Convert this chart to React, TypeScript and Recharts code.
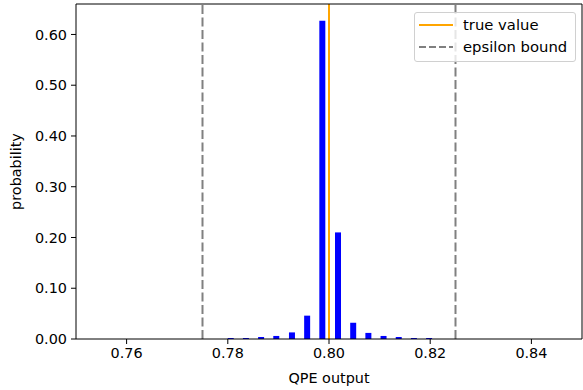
import React from 'react';
import { ComposedChart, Bar, XAxis, YAxis, ReferenceLine } from 'recharts';

// QPE output bins and their measured probabilities
const outputs = [0.7805, 0.7835, 0.7865, 0.7895, 0.7926, 0.7956, 0.7986, 0.8017, 0.8047, 0.8077, 0.8107, 0.8137, 0.8167, 0.8197];
const probs = [0.002, 0.002, 0.004, 0.006, 0.013, 0.046, 0.627, 0.21, 0.032, 0.012, 0.006, 0.004, 0.002, 0.002];

const trueValue = 0.8;
const epsilonBounds = [0.775, 0.825];

const xTicks = [0.76, 0.78, 0.8, 0.82, 0.84];
const yTicks = [0, 0.1, 0.2, 0.3, 0.4, 0.5, 0.6];

const xDomain = [0.75, 0.85];
const yDomain = [0, 0.66];

const data = outputs.map((x, i) => ({ x, p: probs[i] }));

const font = '"DejaVu Sans", sans-serif';
const tickStyle = { fontSize: 14.4, fill: '#000', fontFamily: font };

const LegendBox = () => (
    <div
        style={{
            position: 'absolute',
            left: 414,
            top: 12,
            width: 160,
            height: 48,
            border: '1px solid #d0d0d0',
            borderRadius: 3,
            background: 'rgba(255,255,255,0.8)',
            fontFamily: font,
            fontSize: 14.8,
            color: '#000',
        }}
    >
        <svg width={40} height={48} style={{ position: 'absolute', left: 0, top: 0 }}>
            <line x1={4} x2={38} y1={12} y2={12} stroke="#ffa500" strokeWidth={2} />
            <line x1={4} x2={38} y1={34} y2={34} stroke="#808080" strokeWidth={2} strokeDasharray="7 3" />
        </svg>
        <div style={{ position: 'absolute', left: 48, top: 2, lineHeight: '19px' }}>true value</div>
        <div style={{ position: 'absolute', left: 48, top: 24, lineHeight: '19px' }}>epsilon bound</div>
    </div>
);

export default function App() {
    return (
        <div style={{ position: 'absolute', left: 0, top: 0, width: 583, height: 390, background: '#fff' }}>
            <ComposedChart
                width={583}
                height={390}
                data={data}
                margin={{ top: 4, right: 1, bottom: 0, left: 0 }}
            >
                <XAxis
                    dataKey="x"
                    type="number"
                    domain={xDomain}
                    ticks={xTicks}
                    tickFormatter={(v: number) => v.toFixed(2)}
                    height={51}
                    tickSize={5}
                    tickMargin={4}
                    tick={tickStyle}
                    stroke="#000"
                    allowDataOverflow
                    label={{ value: 'QPE output', position: 'insideBottom', offset: 7, style: { ...tickStyle, textAnchor: 'middle' } }}
                />
                <YAxis
                    type="number"
                    domain={yDomain}
                    ticks={yTicks}
                    tickFormatter={(v: number) => v.toFixed(2)}
                    width={76}
                    tickSize={5}
                    tickMargin={4}
                    tick={tickStyle}
                    stroke="#000"
                    allowDataOverflow
                    label={{ value: 'probability', angle: -90, position: 'insideLeft', offset: 16, style: { ...tickStyle, textAnchor: 'middle' } }}
                />
                <Bar dataKey="p" fill="#0000ff" barSize={6} isAnimationActive={false} />
                <ReferenceLine x={trueValue} stroke="#ffa500" strokeWidth={2} />
                {epsilonBounds.map((b) => (
                    <ReferenceLine key={b} x={b} stroke="#808080" strokeWidth={2} strokeDasharray="9 3.5" />
                ))}
                {/* top and right spines */}
                <ReferenceLine y={yDomain[1]} stroke="#000" strokeWidth={1} />
                <ReferenceLine x={xDomain[1]} stroke="#000" strokeWidth={1} />
            </ComposedChart>
            <LegendBox />
        </div>
    );
}
